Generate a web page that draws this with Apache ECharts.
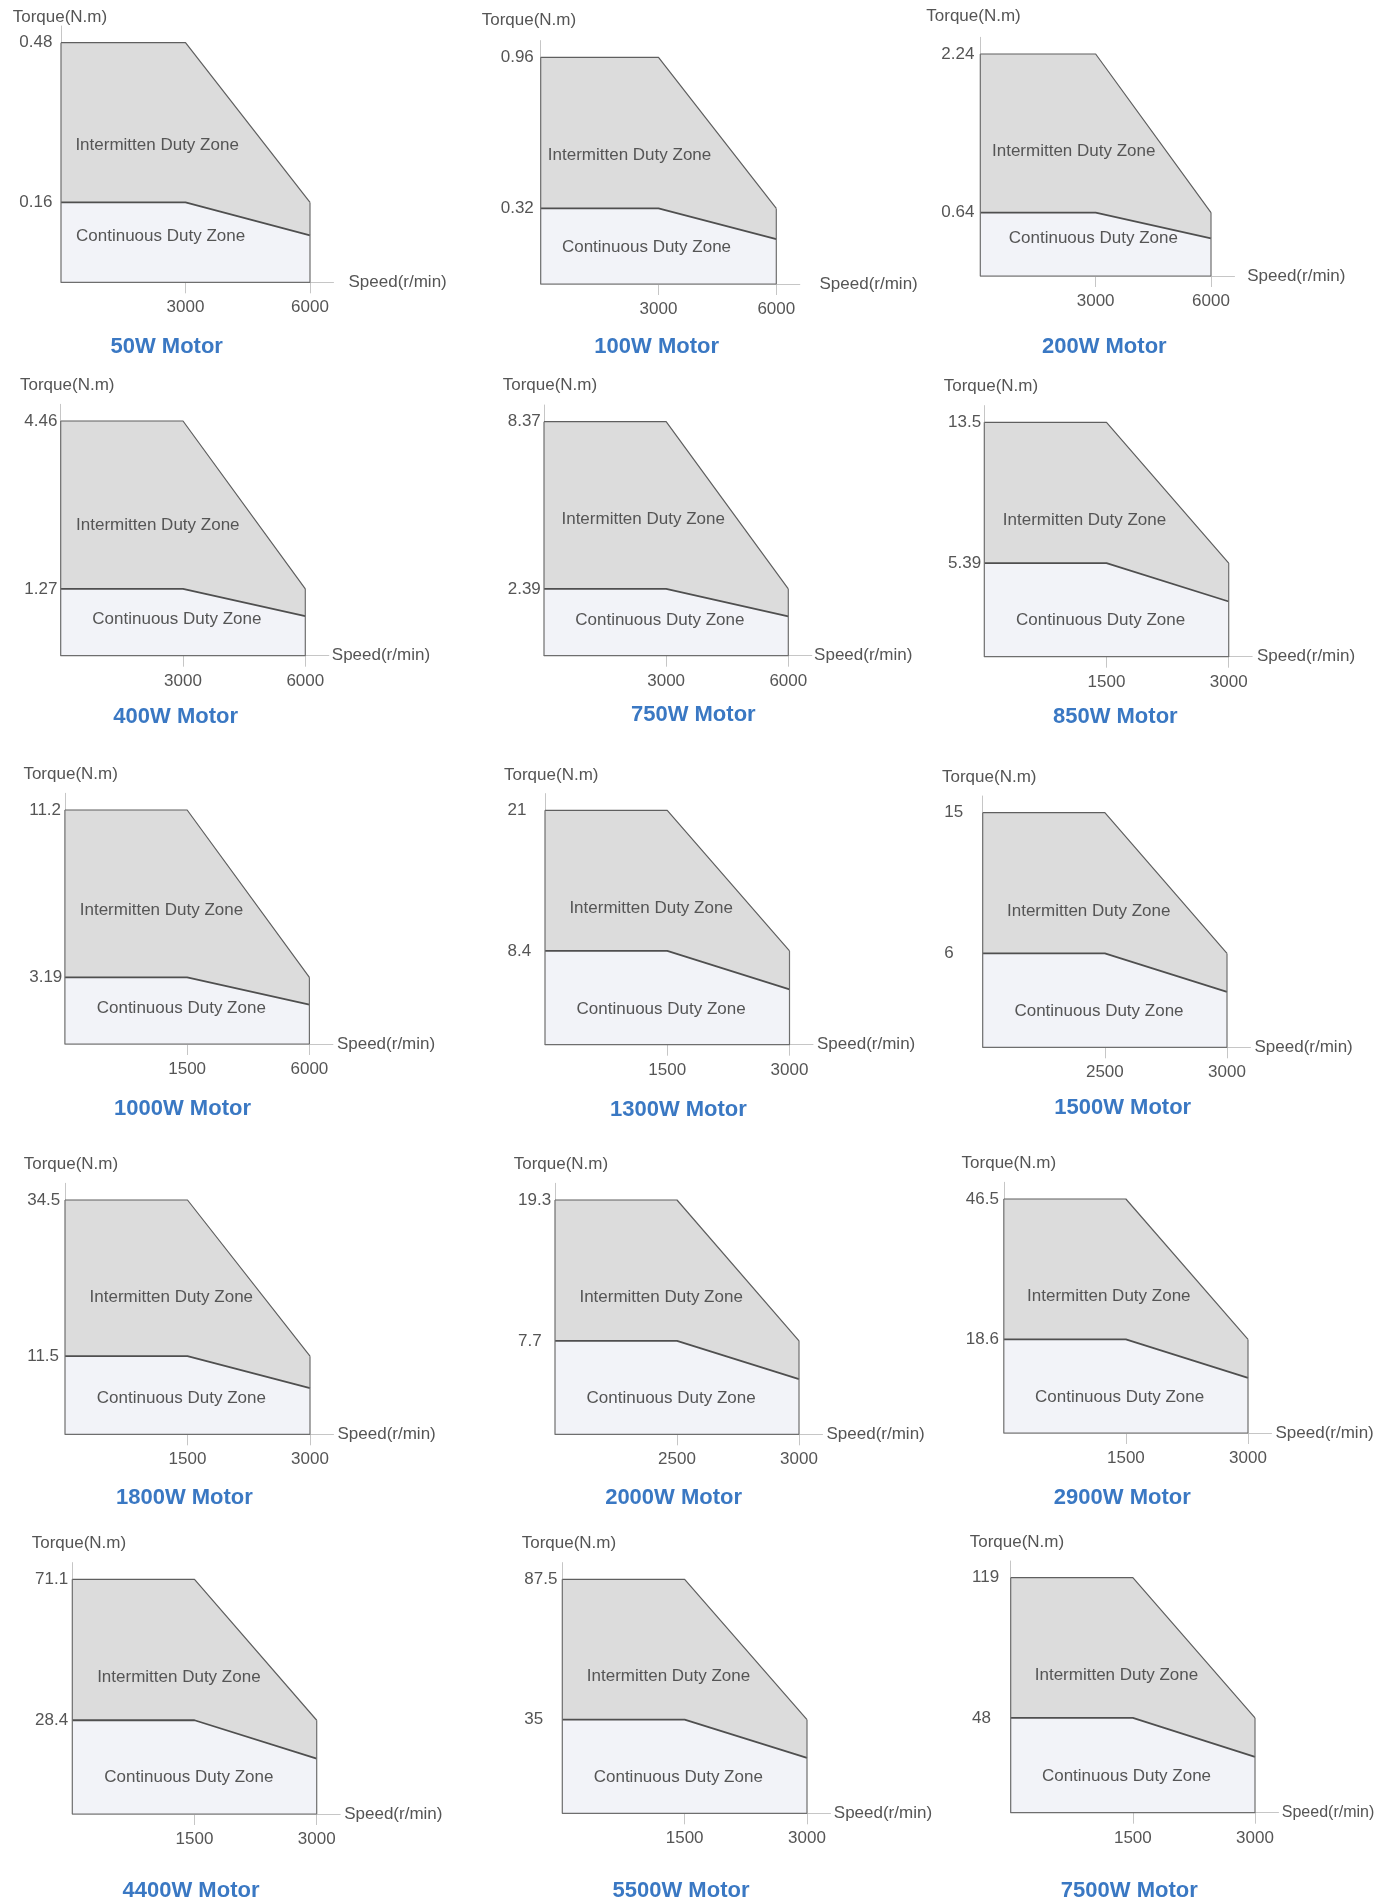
<!DOCTYPE html>
<html>
<head>
<meta charset="utf-8">
<script src="https://cdn.jsdelivr.net/npm/echarts@6/dist/echarts.min.js"></script>
<style>
  html, body { margin: 0; padding: 0; background: #ffffff; }
  #chart { width: 1377px; height: 1902px; }
</style>
</head>
<body>
<div id="chart"></div>
<script>
// ---------------- DATA ----------------
const motors = ['50W', '100W', '200W', '400W', '750W', '850W', '1000W', '1300W', '1500W',
                '1800W', '2000W', '2900W', '4400W', '5500W', '7500W'];
const peakTorque  = [0.48, 0.96, 2.24, 4.46, 8.37, 13.5, 11.2, 21, 15, 34.5, 19.3, 46.5, 71.1, 87.5, 119];
const ratedTorque = [0.16, 0.32, 0.64, 1.27, 2.39, 5.39, 3.19, 8.4, 6, 11.5, 7.7, 18.6, 28.4, 35, 48];
// continuous torque at maximum speed
const contTorqueAtMax = [0.094, 0.19, 0.38, 0.75, 1.41, 3.18, 1.88, 4.96, 3.54, 6.79, 4.54, 10.97, 16.8, 20.7, 28.3];
const ratedSpeed = [3000, 3000, 3000, 3000, 3000, 1500, 1500, 1500, 2500, 1500, 2500, 1500, 1500, 1500, 1500];
const maxSpeed   = [6000, 6000, 6000, 6000, 6000, 3000, 6000, 3000, 3000, 3000, 3000, 3000, 3000, 3000, 3000];
const yTitle = 'Torque(N.m)';
const xTitle = 'Speed(r/min)';
const zoneIntermittent = 'Intermitten Duty Zone';
const zoneContinuous = 'Continuous Duty Zone';

// ---------------- LAYOUT ----------------
const axisX  = [61, 540.7, 980.3, 60.7, 544, 984.3, 64.9, 545, 982.7, 65, 555, 1003.8, 72.3, 562.3, 1010.7];
const peakY  = [42.7, 57.3, 54, 421, 421.7, 422.3, 810, 810.3, 812.7, 1200, 1200, 1199, 1579.3, 1579.3, 1577.7];
const plotW  = [249, 235.6, 230.7, 244.6, 244.3, 244.4, 244.5, 244.5, 244.3, 245, 244, 244.2, 244.4, 244.7, 244.3];
const plotH  = [239.6, 226.7, 222, 234.7, 234, 234.4, 234, 234.4, 234.6, 234.3, 234.3, 234, 234.7, 234, 235];
const torqueX = [12.7, 481.7, 926.3, 20, 502.7, 943.7, 23.4, 504, 942, 23.7, 513.7, 961.6, 31.7, 521.7, 969.7];
const torqueY = [17.3, 20.7, 16, 385, 385.7, 386.7, 774.3, 775, 777.3, 1164.3, 1164.3, 1163.3, 1543.3, 1543.3, 1542.3];
const titleX = [166.7, 656.7, 1104.3, 175.7, 693.3, 1115.3, 182.5, 678.4, 1122.7, 184.4, 673.6, 1122.3, 191, 681, 1129.3];
const titleY = [346.7, 346.7, 346.7, 717.3, 715, 717.3, 1109.3, 1110, 1107.7, 1498.3, 1498.3, 1497.7, 1891, 1891, 1891];
const yLabelMargin = [41.7, 40, 39, 36.4, 36.3, 36.3, 35.7, 37.4, 38.4, 37.8, 37, 38, 37.3, 38, 38.7];
const speedNameGap = [15, 19.7, 12.7, 3, 2.3, 4.7, 4, 4, 4, 4, 4, 4, 4, 3.3, 3.3];
const interLabelPos = [[0.386, 0.57], [0.377, 0.569], [0.405, 0.563], [0.397, 0.556], [0.406, 0.583],
  [0.41, 0.582], [0.395, 0.57], [0.434, 0.582], [0.434, 0.581], [0.434, 0.583], [0.435, 0.583],
  [0.43, 0.582], [0.436, 0.584], [0.434, 0.584], [0.433, 0.583]];
const contLabelPos = [[0.40, 0.19], [0.449, 0.163], [0.49, 0.17], [0.475, 0.155], [0.474, 0.152],
  [0.476, 0.154], [0.476, 0.153], [0.475, 0.152], [0.476, 0.152], [0.475, 0.154], [0.476, 0.154],
  [0.474, 0.153], [0.477, 0.155], [0.474, 0.152], [0.474, 0.153]];
const X_EXT = 23.5;   // axis line beyond max speed
const Y_EXT = 16.7;   // axis line above peak torque

const FONT = '"Liberation Sans", Arial, Helvetica, sans-serif';
const TEXT = '#555555';
const AXIS = '#c6c6c6';

const grids = [], xAxes = [], yAxes = [], series = [], elements = [];

motors.forEach((m, i) => {
  const speeds = [0, ratedSpeed[i], maxSpeed[i]];
  const gw = plotW[i] + X_EXT, gh = plotH[i] + Y_EXT;
  grids.push({ left: axisX[i], top: peakY[i] - Y_EXT, width: gw, height: gh, containLabel: false });
  xAxes.push({
    gridIndex: i, type: 'value', min: 0, max: 2 * gw / plotW[i], interval: 1,
    name: xTitle, nameLocation: 'end', nameGap: speedNameGap[i],
    nameTextStyle: { fontFamily: FONT, fontSize: i === 14 ? 16 : 17, color: TEXT, align: 'left', verticalAlign: 'middle' },
    axisLine: { show: true, lineStyle: { color: AXIS, width: 1 } },
    axisTick: { show: true, length: 11, lineStyle: { color: AXIS, width: 1 }, customValues: [1, 2] },
    axisLabel: {
      show: true, customValues: [1, 2], margin: 17,
      fontFamily: FONT, fontSize: 17, color: TEXT,
      formatter: v => (v === 1 || v === 2) ? String(speeds[v]) : ''
    },
    splitLine: { show: false }
  });
  yAxes.push({
    gridIndex: i, type: 'value', min: 0, max: peakTorque[i] * gh / plotH[i],
    axisLine: { show: true, onZero: false, lineStyle: { color: AXIS, width: 1 } },
    axisTick: { show: false },
    axisLabel: {
      show: true, customValues: [ratedTorque[i], peakTorque[i]], margin: yLabelMargin[i],
      align: 'left', verticalAlign: 'middle',
      fontFamily: FONT, fontSize: 17, color: TEXT,
      formatter: v => String(v)
    },
    splitLine: { show: false }
  });
  const idx = [0, 1, 2];
  series.push({
    type: 'line', xAxisIndex: i, yAxisIndex: i, symbol: 'none', silent: true, clip: false, z: 2,
    data: idx.map(k => [k, k < 2 ? peakTorque[i] : ratedTorque[i]]),
    lineStyle: { color: '#5f5f5f', width: 1.2 },
    areaStyle: { color: '#dcdcdc', opacity: 1 }
  });
  series.push({
    type: 'line', xAxisIndex: i, yAxisIndex: i, symbol: 'none', silent: true, clip: false, z: 3,
    data: idx.map(k => [k, k < 2 ? ratedTorque[i] : contTorqueAtMax[i]]),
    lineStyle: { color: '#4f4f4f', width: 1.8 },
    areaStyle: { color: '#f2f3f8', opacity: 1 }
  });
  series.push({
    type: 'line', xAxisIndex: i, yAxisIndex: i, symbol: 'none', silent: true, clip: false, z: 4,
    data: [[0, peakTorque[i]], [0, 0], [2, 0], [2, ratedTorque[i]]],
    lineStyle: { color: '#6e6e6e', width: 1.2 }
  });

  // texts
  elements.push({ type: 'text', x: titleX[i], y: titleY[i], silent: true,
    style: { text: m + ' Motor', font: 'bold 22px ' + FONT, fill: '#3a78c3', textAlign: 'center', textVerticalAlign: 'middle' } });
  elements.push({ type: 'text', x: torqueX[i], y: torqueY[i], silent: true,
    style: { text: yTitle, font: '17px ' + FONT, fill: TEXT, textAlign: 'left', textVerticalAlign: 'middle' } });
  const base = peakY[i] + plotH[i];
  elements.push({ type: 'text', x: axisX[i] + interLabelPos[i][0] * plotW[i], y: base - interLabelPos[i][1] * plotH[i], silent: true, z: 100,
    style: { text: zoneIntermittent, font: '17px ' + FONT, fill: TEXT, textAlign: 'center', textVerticalAlign: 'middle' } });
  elements.push({ type: 'text', x: axisX[i] + contLabelPos[i][0] * plotW[i], y: base - contLabelPos[i][1] * plotH[i], silent: true, z: 100,
    style: { text: zoneContinuous, font: '17px ' + FONT, fill: TEXT, textAlign: 'center', textVerticalAlign: 'middle' } });
});

const chart = echarts.init(document.getElementById('chart'), null, { renderer: 'canvas' });
chart.setOption({
  animation: false,
  backgroundColor: '#ffffff',
  grid: grids,
  xAxis: xAxes,
  yAxis: yAxes,
  series: series,
  graphic: { elements: elements }
});
</script>
</body>
</html>
